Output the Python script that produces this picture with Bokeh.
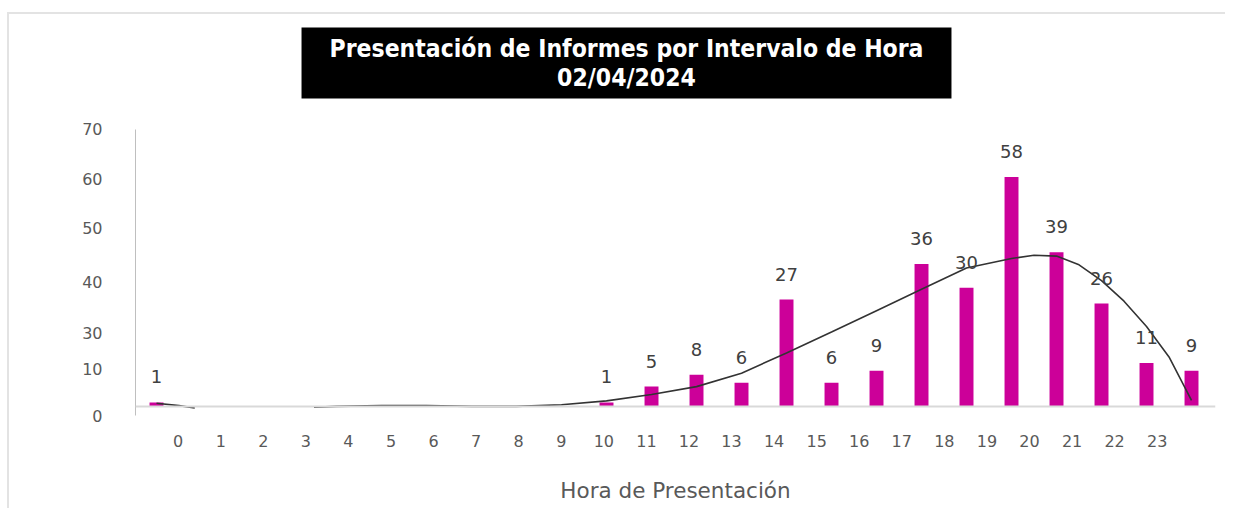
from bokeh.plotting import figure
from bokeh.models import Range1d, LinearAxis, FixedTicker, ColumnDataSource, LabelSet, Span, Label
from bokeh.embed import file_html
from bokeh.resources import INLINE
from bokeh.core.properties import value

# ---- data ----
hours = list(range(24))
hour_labels = [str(h) for h in hours]
counts = [1, 0, 0, 0, 0, 0, 0, 0, 0, 0, 1, 5, 8, 6, 27, 6, 9, 36, 30, 58, 39, 26, 11, 9]

# polynomial trend line as drawn (gap where it falls below the axis)
trend_hours = [0, 0.5, 0.85, 2, 3.5, 4, 5, 6, 7, 8, 9, 10, 11, 12, 13, 14, 15, 16, 17, 18,
               19, 19.5, 20, 20.5, 21, 21.5, 22, 22.5, 23]
trend_values = [0.8, 0.2, -0.4, float("nan"), -0.2, 0.0, 0.2, 0.2, 0.0, 0.0, 0.4, 1.4, 3.0, 5.0,
                8.4, 13.5, 18.8, 24.2, 29.6, 35.0, 37.4, 38.2, 38.0, 35.8, 31.8, 26.6, 20.2, 12.5, 1.5]

# value-axis labels as printed in the chart (at their printed positions)
y_tick_text = ["70", "60", "50", "40", "30", "10", "0"]
y_tick_pos = [70, 57.6, 45.0, 31.4, 18.5, 9.4, -2.3]

title_text = "Presentación de Informes por Intervalo de Hora\n02/04/2024"
x_title = "Hora de Presentación"

BAR = "#CC0099"
GRAY_TXT = "#595959"

# frame spans the whole upper area so that the title box is not clipped
p = figure(width=1218, height=496, output_backend="svg", toolbar_location=None,
           x_range=Range1d(-0.467, 23.533), y_range=Range1d(-2.3, 99.07),
           min_border_left=126, min_border_right=12,
           min_border_top=0, min_border_bottom=95)
p.styles = {"border-left": "2px solid #e3e3e3", "border-top": "2px solid #e3e3e3",
            "margin-top": "12px", "margin-left": "7px"}
p.outline_line_color = None
p.xgrid.visible = False
p.ygrid.visible = False
p.background_fill_color = "white"
p.border_fill_color = "white"

# hide primary x axis; hour labels on a separate axis
p.xaxis.visible = False
p.extra_x_ranges = {"lab": Range1d(-1.003, 24.37)}
lab_axis = LinearAxis(x_range_name="lab", ticker=FixedTicker(ticks=hours),
                      major_label_overrides={h: s for h, s in zip(hours, hour_labels)},
                      axis_label=x_title)
lab_axis.axis_line_color = None
lab_axis.major_tick_line_color = None
lab_axis.minor_tick_line_color = None
lab_axis.major_label_text_font = "DejaVu Sans"
lab_axis.major_label_text_font_size = "16px"
lab_axis.major_label_text_color = GRAY_TXT
lab_axis.major_label_standoff = 13
lab_axis.axis_label_text_font = "DejaVu Sans"
lab_axis.axis_label_text_font_size = "21.5px"
lab_axis.axis_label_text_font_style = "normal"
lab_axis.axis_label_text_color = GRAY_TXT
lab_axis.axis_label_standoff = 28
p.add_layout(lab_axis, "below")

# baseline
p.add_layout(Span(location=0, dimension="width", line_color="#d9d9d9", line_width=2))

# y axis
ya = p.yaxis[0]
ya.bounds = (-2.3, 70)
ya.ticker = FixedTicker(ticks=y_tick_pos)
ya.major_label_overrides = {v: s for v, s in zip(y_tick_pos, y_tick_text)}
ya.axis_line_color = "#bfbfbf"
ya.major_tick_line_color = None
ya.minor_tick_line_color = None
ya.major_label_text_font = "DejaVu Sans"
ya.major_label_text_font_size = "16px"
ya.major_label_text_color = GRAY_TXT
ya.major_label_standoff = 27

src = ColumnDataSource(dict(x=hours, top=counts))
p.vbar(x="x", top="top", bottom=0, width=0.31, source=src, fill_color=BAR, line_color=None)

p.line(trend_hours, trend_values, line_color="#333333", line_width=1.6)

lx = [h for h, c in zip(hours, counts) if c > 0]
ly = [c for c in counts if c > 0]
lt = [str(c) for c in counts if c > 0]
lsrc = ColumnDataSource(dict(x=lx, y=ly, t=lt))
p.add_layout(LabelSet(x="x", y="y", text="t", source=lsrc, text_align="center",
                      text_baseline="alphabetic", y_offset=19, text_font=value("DejaVu Sans"),
                      text_font_size=value("18px"), text_color="#404040"))

# title box
p.add_layout(Label(x=491, y=352.5, x_units="screen", y_units="screen", text=title_text,
                   text_align="center", text_baseline="middle",
                   background_fill_color="black", padding=(28, 6),
                   text_color="white", text_font="'DejaVu Sans Condensed', 'DejaVu Sans', sans-serif",
                   text_font_style="bold", text_font_size="24.5px", text_line_height=1.03))

open("out.html", "w").write(file_html(p, INLINE))
